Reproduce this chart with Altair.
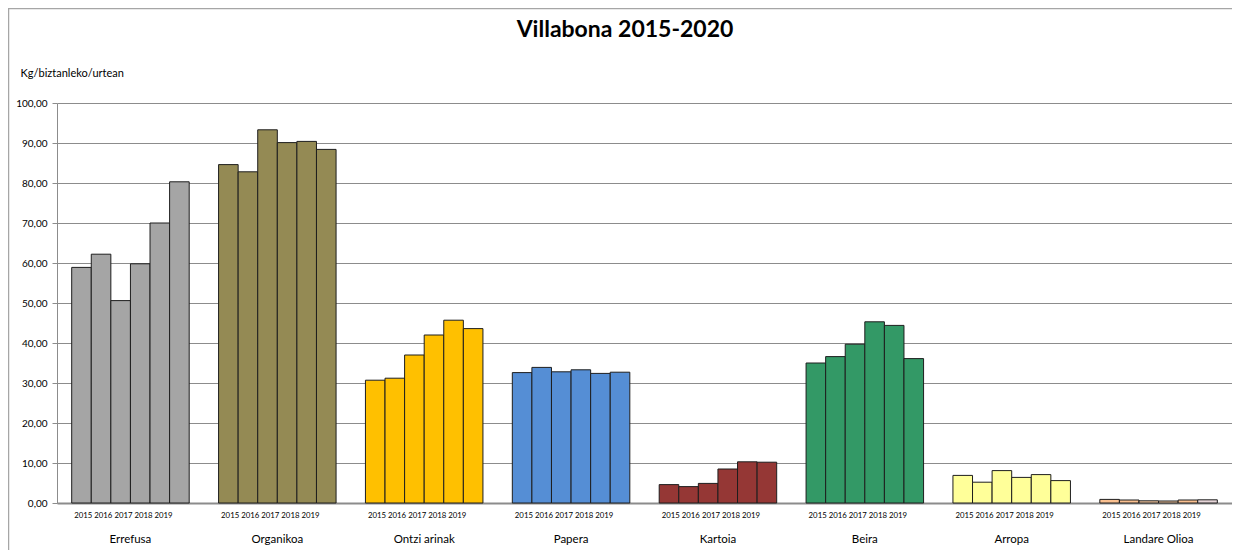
import altair as alt
import pandas as pd

categories = ["Errefusa", "Organikoa", "Ontzi arinak", "Papera", "Kartoia", "Beira", "Arropa", "Landare Olioa"]
years = ["2015", "2016", "2017", "2018", "2019", "2020"]
errefusa = [58.9, 62.2, 50.6, 59.8, 70.0, 80.3]
organikoa = [84.6, 82.8, 93.3, 90.1, 90.4, 88.4]
ontzi_arinak = [30.7, 31.2, 37.0, 42.0, 45.7, 43.6]
papera = [32.6, 33.9, 32.8, 33.3, 32.4, 32.7]
kartoia = [4.6, 4.1, 4.9, 8.5, 10.3, 10.2]
beira = [35.0, 36.6, 39.7, 45.3, 44.4, 36.1]
arropa = [6.9, 5.2, 8.1, 6.4, 7.1, 5.6]
landare_olioa = [0.9, 0.75, 0.55, 0.5, 0.75, 0.8]
series = [errefusa, organikoa, ontzi_arinak, papera, kartoia, beira, arropa, landare_olioa]

cat_colors = ["#A5A5A5", "#948A54", "#FFC000", "#558ED5", "#953735", "#339966", "#FFFF99", "#FAC090"]
landare_colors = ["#FAC090", "#FAC090", "#F5C8A0", "#F5C8A0", "#FAC090", "#E6D5D8"]
year_label_text = "2015 2016 2017 2018 2019"
y_ticks = [0, 10, 20, 30, 40, 50, 60, 70, 80, 90, 100]

rows = []
for ci, (cat, vals) in enumerate(zip(categories, series)):
    for yi, (yr, v) in enumerate(zip(years, vals)):
        col = landare_colors[yi] if cat == "Landare Olioa" else cat_colors[ci]
        rows.append({"cat": cat, "year": yr, "value": v, "color": col})
df = pd.DataFrame(rows)
lab_df = pd.DataFrame({"cat": categories, "label": [year_label_text] * len(categories)})
one = pd.DataFrame({"t": ["Villabona 2015-2020"]})

FONT = "Lato"

x_enc = alt.X(
    "cat:N",
    sort=categories,
    scale=alt.Scale(paddingInner=0.2, paddingOuter=0.1),
    axis=alt.Axis(
        title=None, labelAngle=0, ticks=False, labelPadding=30,
        labelFontSize=11.5, labelColor="black", labelFont=FONT,
        domainColor="#8C8C8C", domainWidth=2, grid=False,
    ),
)

bars = alt.Chart(df).mark_bar(stroke="#1E1E1E", strokeWidth=1).encode(
    x=x_enc,
    xOffset=alt.XOffset("year:O", sort=years, scale=alt.Scale(paddingInner=0, paddingOuter=0)),
    y=alt.Y(
        "value:Q",
        scale=alt.Scale(domain=[0, 100], nice=False),
        axis=alt.Axis(
            values=y_ticks,
            labelExpr="replace(format(datum.value, '.2f'), '.', ',')",
            title="Kg/biztanleko/urtean", titleAngle=0, titleAlign="left",
            titleBaseline="middle", titleX=-37, titleY=-30,
            titleFontSize=11, titleFontWeight="normal", titleFont=FONT, titleColor="black",
            labelFontSize=10, labelFont=FONT, labelColor="black", labelPadding=5,
            tickSize=5, tickColor="#8C8C8C", domainColor="#8C8C8C",
            gridColor="#8C8C8C", gridWidth=1,
        ),
    ),
    color=alt.Color("color:N", scale=None),
)

year_labels = alt.Chart(lab_df).mark_text(
    fontSize=7.8, font=FONT, color="black", baseline="middle", dx=-7
).encode(
    x=alt.X("cat:N", sort=categories),
    y=alt.value(413),
    text="label:N",
)

title = alt.Chart(one).mark_text(
    fontSize=23, fontWeight="bold", font=FONT, color="black", baseline="middle", align="center"
).encode(x=alt.value(568), y=alt.value(-73), text="t:N")

border_top = alt.Chart(one).mark_rule(color="#A6A6A6", strokeWidth=1.5).encode(
    x=alt.value(-48), x2=alt.value(1175), y=alt.value(-94.5)
)
border_left = alt.Chart(one).mark_rule(color="#A6A6A6", strokeWidth=1.5).encode(
    x=alt.value(-48.5), y=alt.value(-95), y2=alt.value(452)
)

chart = alt.layer(bars, year_labels, title, border_top, border_left).properties(
    width=1175, height=400,
    autosize=alt.AutoSizeParams(type="none"),
    padding={"left": 49, "top": 95, "right": 0, "bottom": 47},
    background="white",
).configure_view(stroke=None)

chart.save("out.html", embed_options={"renderer": "svg", "actions": False})
